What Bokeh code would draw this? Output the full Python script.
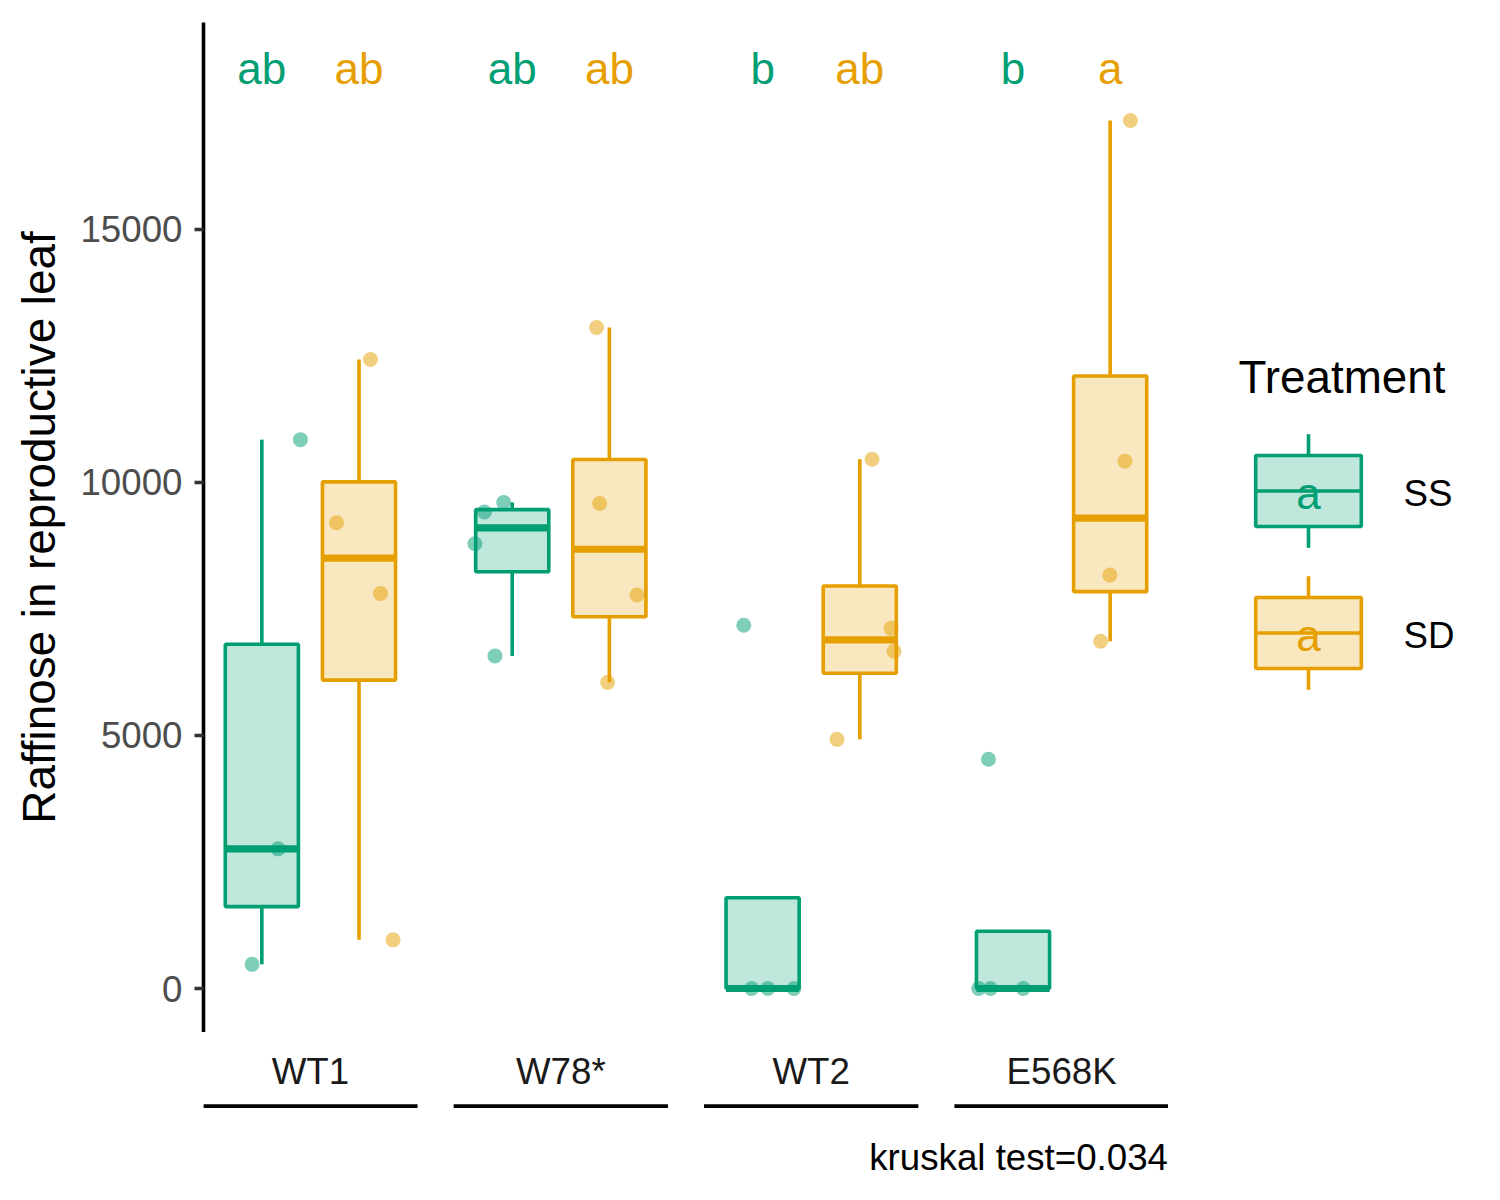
import numpy as np
import pandas as pd
from bokeh.plotting import figure
from bokeh.models import ColumnDataSource, Range1d
from bokeh.layouts import column, row
from bokeh.core.properties import value
from bokeh.embed import file_html
from bokeh.resources import INLINE

# ---- data ----
genotypes = ["WT1", "W78*", "WT2", "E568K"]
treatments = ["SS", "SD"]
colors = {"SS": "#009E73", "SD": "#E69F00"}

# raffinose in reproductive leaf, one value per plant
raffinose_ss = {
    "WT1": [10845, 2760, 478],
    "W78*": [9605, 9415, 8789, 6572],
    "WT2": [7179, 0, 0, 0],
    "E568K": [4531, 0, 0, 0],
}
raffinose_sd = {
    "WT1": [12429, 9204, 7805, 962],
    "W78*": [13061, 9584, 7776, 6050],
    "WT2": [10459, 7118, 6663, 4924],
    "E568K": [17151, 10421, 8169, 6861],
}
# horizontal jitter of the points (category units)
jitter_ss = {
    "WT1": [0.154, 0.065, -0.039],
    "W78*": [-0.034, -0.111, -0.149, -0.069],
    "WT2": [-0.075, -0.044, 0.021, 0.125],
    "E568K": [-0.098, -0.137, -0.090, 0.041],
}
jitter_sd = {
    "WT1": [0.046, -0.090, 0.086, 0.136],
    "W78*": [-0.051, -0.039, 0.110, -0.007],
    "WT2": [0.049, 0.125, 0.137, -0.091],
    "E568K": [0.081, 0.059, -0.001, -0.038],
}
letters_ss = ["ab", "ab", "b", "b"]
letters_sd = ["ab", "ab", "ab", "a"]
letter_y = 18170
kruskal_p = 0.034
y_ticks = [0, 5000, 10000, 15000]

FONT = value("Liberation Sans")
dodge = {"SS": -0.194, "SD": 0.194}
half_w = 0.146
LW = 3.6

# ---- boxplot stats (ggplot style, type 7 quantiles) ----
box_rows, pt_rows = [], []
for t, vals, jit in [("SS", raffinose_ss, jitter_ss), ("SD", raffinose_sd, jitter_sd)]:
    for i, g in enumerate(genotypes):
        y = np.array(vals[g], dtype=float)
        q1, med, q3 = np.percentile(y, [25, 50, 75])
        iqr = q3 - q1
        inside = y[(y >= q1 - 1.5 * iqr) & (y <= q3 + 1.5 * iqr)]
        lo = min(q1, inside.min())
        hi = max(q3, inside.max())
        xc = i + 1 + dodge[t]
        box_rows.append(dict(x=xc, left=xc - half_w, right=xc + half_w,
                             q1=q1, med=med, q3=q3, lo=lo, hi=hi, color=colors[t]))
        for v, j in zip(y, jit[g]):
            pt_rows.append(dict(x=xc + j, y=v, color=colors[t]))

boxes = ColumnDataSource(pd.DataFrame(box_rows))
points = ColumnDataSource(pd.DataFrame(pt_rows))


def bare(**kw):
    f = figure(title=None, toolbar_location=None, output_backend="svg",
               min_border_left=0, min_border_right=0, min_border_top=0,
               min_border_bottom=0, **kw)
    f.outline_line_color = None
    f.grid.grid_line_color = None
    return f


# ---- main panel ----
p = bare(frame_width=965, frame_height=1010,
         x_range=Range1d(0.573, 4.427), y_range=Range1d(-869, 19088),
         x_axis_location=None)
p.min_border_left = 203
p.min_border_top = 22

p.segment(x0="x", y0="q3", x1="x", y1="hi", source=boxes, line_color="color", line_width=LW)
p.segment(x0="x", y0="q1", x1="x", y1="lo", source=boxes, line_color="color", line_width=LW)
p.quad(left="left", right="right", top="q3", bottom="q1", source=boxes,
       fill_color="color", fill_alpha=0.25, line_color="color", line_width=LW)
p.segment(x0="left", y0="med", x1="right", y1="med", source=boxes,
          line_color="color", line_width=2 * LW)
p.scatter(x="x", y="y", source=points, size=15, fill_color="color",
          fill_alpha=0.5, line_color=None)

for t, letters in [("SS", letters_ss), ("SD", letters_sd)]:
    p.text(x=[i + 1 + dodge[t] for i in range(len(genotypes))], y=[letter_y] * len(genotypes),
           text=letters, text_align="center", text_baseline="middle",
           text_font=FONT, text_font_size="44px", text_color=colors[t])

ax = p.yaxis[0]
ax.ticker = y_ticks
ax.axis_label = "Raffinose in reproductive leaf"
ax.axis_label_text_font = "Liberation Sans"
ax.axis_label_text_font_size = "45.8px"
ax.axis_label_text_font_style = "normal"
ax.axis_label_text_color = "black"
ax.axis_label_standoff = 12
ax.major_label_text_font = "Liberation Sans"
ax.major_label_text_font_size = "36.7px"
ax.major_label_text_color = "#4D4D4D"
ax.major_label_standoff = 12
ax.axis_line_width = LW
ax.axis_line_color = "black"
ax.major_tick_line_color = "#333333"
ax.major_tick_line_width = LW
ax.major_tick_in = 0
ax.major_tick_out = 9
ax.minor_tick_line_color = None

# ---- group labels under the panel ----
p2 = bare(frame_width=965, frame_height=160, x_range=p.x_range, y_range=Range1d(160, 0),
          x_axis_location=None, y_axis_location=None)
p2.min_border_left = 203
cats = [i + 1 for i in range(len(genotypes))]
p2.text(x=cats, y=[38.5] * len(cats), text=genotypes, text_align="center",
        text_baseline="middle", text_font=FONT, text_font_size="36.7px", text_color="#1A1A1A")
p2.segment(x0=[c - 0.428 for c in cats], y0=[73.7] * len(cats),
           x1=[c + 0.428 for c in cats], y1=[73.7] * len(cats),
           line_color="black", line_width=3.7)
p2.text(x=[4.425], y=[125.2], text=[f"kruskal test={kruskal_p}"], text_align="right",
        text_baseline="middle", text_font=FONT, text_font_size="36.7px", text_color="black")

# ---- legend (frame is aligned with the main panel's frame) ----
leg = bare(frame_width=324, frame_height=1010, x_range=Range1d(0, 324), y_range=Range1d(1032, 22),
           x_axis_location=None, y_axis_location=None)
leg.min_border_top = 22
leg.text(x=[70], y=[376.7], text=["Treatment"], text_baseline="middle",
         text_font=FONT, text_font_size="45.8px", text_color="black")
key = 142
cx = 140
key_cy = {"SS": 490.5, "SD": 632.5}
for t in treatments:
    cy = key_cy[t]
    c = colors[t]
    leg.segment(x0=[cx, cx], y0=[cy - 0.4 * key, cy + 0.25 * key],
                x1=[cx, cx], y1=[cy - 0.25 * key, cy + 0.4 * key], line_color=c, line_width=LW)
    leg.quad(left=[cx - 0.372 * key], right=[cx + 0.372 * key], top=[cy - 0.25 * key],
             bottom=[cy + 0.25 * key], fill_color=c, fill_alpha=0.25, line_color=c, line_width=LW)
    leg.segment(x0=[cx - 0.372 * key], y0=[cy], x1=[cx + 0.372 * key], y1=[cy],
                line_color=c, line_width=LW)
    leg.text(x=[cx], y=[cy + 2.4], text=["a"], text_align="center", text_baseline="middle",
             text_font=FONT, text_font_size="44px", text_color=c)
    leg.text(x=[235], y=[cy + 2.4], text=[t], text_baseline="middle",
             text_font=FONT, text_font_size="36.7px", text_color="black")

layout = column(row(p, leg), p2)
open("out.html", "w").write(file_html(layout, INLINE))
